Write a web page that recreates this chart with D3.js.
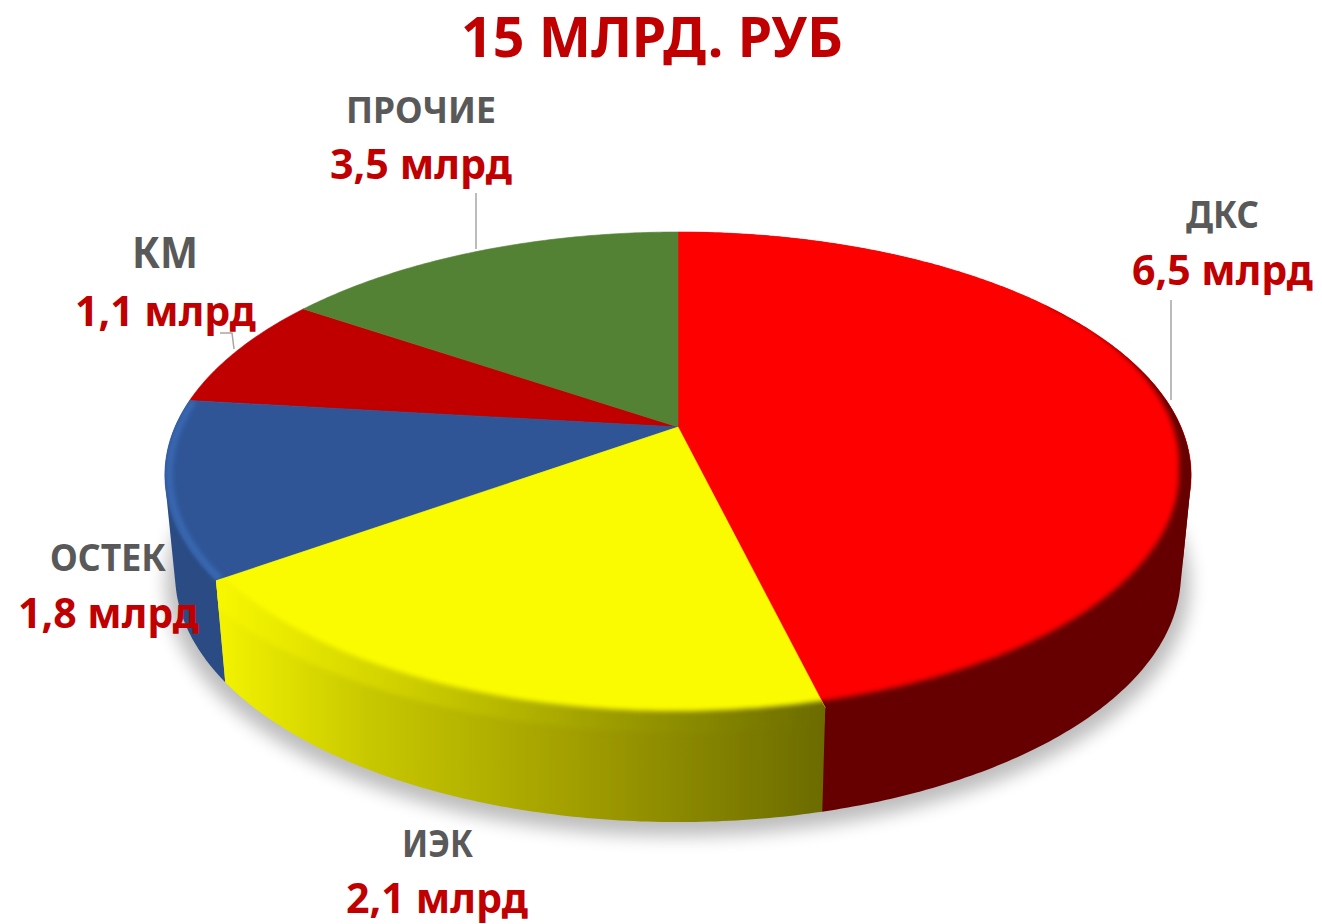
<!DOCTYPE html>
<html><head><meta charset="utf-8">
<script src="https://cdn.jsdelivr.net/npm/d3@7/dist/d3.min.js"></script>
<style>html,body{margin:0;padding:0;background:#fff}svg{display:block}text{font-family:"Noto Sans",sans-serif;font-weight:700}</style>
</head><body><div id="c"></div>
<script>
// Data
const titleText = "15 МЛРД. РУБ";
const categories = ["ДКС","ИЭК","ОСТЕК","КМ","ПРОЧИЕ"];
const valueLabels = ["6,5 млрд","2,1 млрд","1,8 млрд","1,1 млрд","3,5 млрд"];
const shares = [46.2,18.9,11.75,7.64,15.51];

// Style & layout
const topColors = ["#ff0000","#fbfb00","#2f5597","#c00000","#548235"];
const wallColors = ["#660000","url(#yw)","#2a4b83",null,null];
const rimColors = ["#660000","url(#yr)",null,null,null];
const nameBoxes = [[1186,1259,228,38],[402,473,857,38],[50,166,571,38],[132,198,268,43],[346,496,123,36.5]];
const valueBoxes = [[1132,1313,285],[346,528,913],[18,199,628],[75,256,326],[330,512,179]];
const leaders = [[[1171,300],[1171,400]],[],[],[[220,333],[232,333],[234,349]],[[476,193],[476,249]]];
const drawOrder = [0,3,4,2,1];

const W=1322,H=924;
const svg=d3.select("#c").append("svg").attr("width",W).attr("height",H);
const defs=svg.append("defs");
const blur=(id,s)=>defs.append("filter").attr("id",id).attr("x","-20%").attr("y","-20%").attr("width","140%").attr("height","140%")
  .append("feGaussianBlur").attr("stdDeviation",s);
blur("sh",9); blur("rb",2.6);
const grad=(id,stops)=>{const g=defs.append("linearGradient").attr("id",id).attr("gradientUnits","userSpaceOnUse")
  .attr("x1",215).attr("x2",825).attr("y1",0).attr("y2",0);
  stops.forEach(([o,c])=>g.append("stop").attr("offset",o).attr("stop-color",c));};
grad("yw",[[0,"#f4f400"],[0.25,"#c8c800"],[0.6,"#a09d00"],[1,"#6b6b00"]]);
grad("yr",[[0,"#f8f800"],[0.3,"#d0d000"],[0.7,"#959500"],[1,"#6b6b00"]]);

// Perspective projection of the unit disc
const k=0.1975;
const proj=(cx,cy,a,b)=>(t,r=1)=>{const x=r*Math.sin(t),y=r*Math.cos(t),s=1+k*y;return [cx+b*x/s,cy-a*y/s];};
const topP=proj(678,427,233.5,503), botP=proj(678,525.5,238,493);
const apex=[678,427];
const arcPts=(p,t0,t1)=>{const n=Math.max(2,Math.ceil((t1-t0)*90));return d3.range(n+1).map(i=>p(t0+(t1-t0)*i/n));};
const line=d3.line(), closed=pts=>line(pts)+"Z";
const rimRadius=d3.scaleLinear().domain([1.1,1.75,3.6]).range([1.004,0.977,0.982]).clamp(true);

const arcs=d3.pie().sort(null).value(d=>d)(shares);

// Shadow
svg.append("path").attr("d",closed(arcPts(t=>{const [x,y]=botP(t);return [678+(x-678)*1.018,y+9+(y-575)*0.02];},0,2*Math.PI)))
  .attr("fill","#000").attr("opacity",0.26).attr("filter","url(#sh)");

// Slices: wall, top face, rim shading
drawOrder.forEach(i=>{
  const d=arcs[i];
  const tp=[apex,...arcPts(topP,d.startAngle,d.endAngle)];
  const g=svg.append("g");
  if(wallColors[i]){
    const T=arcPts(topP,d.startAngle,d.endAngle),B=arcPts(botP,d.startAngle,d.endAngle);
    const wp=i===1?[...T,...B.reverse()]:d3.polygonHull([...T,...B]);
    g.append("path").attr("d",closed(wp)).attr("fill",wallColors[i]);
    defs.append("clipPath").attr("id","cl"+i).selectAll("path").data([tp,wp]).join("path").attr("d",closed);
  }
  g.append("path").attr("d",closed(tp)).attr("fill",topColors[i]).attr("stroke",topColors[i])
    .attr("stroke-width",0.6).attr("stroke-linejoin","round");
  if(rimColors[i]){
    // dark band from an inner arc out past the rim, softened and kept inside the slice
    const t0=i===0?Math.max(d.startAngle,0.95):d.startAngle-0.03, t1=d.endAngle+0.03;
    const band=[...arcPts((t)=>topP(t,rimRadius(t)),t0,t1),...arcPts(t=>topP(t,1.04),t0,t1).reverse()];
    g.append("g").attr("clip-path",`url(#cl${i})`)
      .append("path").attr("d",closed(band)).attr("fill",rimColors[i]).attr("filter","url(#rb)");
  } else if(i===2){
    // lighter highlight along the blue rim
    g.append("g").attr("clip-path",`url(#cl${i})`)
      .append("path").attr("d",line(arcPts(t=>topP(t,0.992),d.startAngle,d.endAngle)))
      .attr("fill","none").attr("stroke","#3a6bb5").attr("stroke-width",6).attr("filter","url(#rb)");
  }
});

// Leader lines
svg.append("g").selectAll("path").data(leaders.filter(l=>l.length)).join("path")
  .attr("d",line).attr("fill","none").attr("stroke","#a6a6a6").attr("stroke-width",1.5);

// Labels
const put=(txt,box,y,size,fill)=>svg.append("text").text(txt).attr("x",box[0]).attr("y",y)
  .attr("font-size",size).attr("fill",fill).attr("textLength",box[1]-box[0]).attr("lengthAdjust","spacingAndGlyphs");
categories.forEach((c,i)=>put(c,nameBoxes[i],nameBoxes[i][2],nameBoxes[i][3],"#595959"));
valueLabels.forEach((c,i)=>put(c,valueBoxes[i],valueBoxes[i][2],41,"#c00000"));
put(titleText,[461,843],57,56,"#c00000");
</script></body></html>
